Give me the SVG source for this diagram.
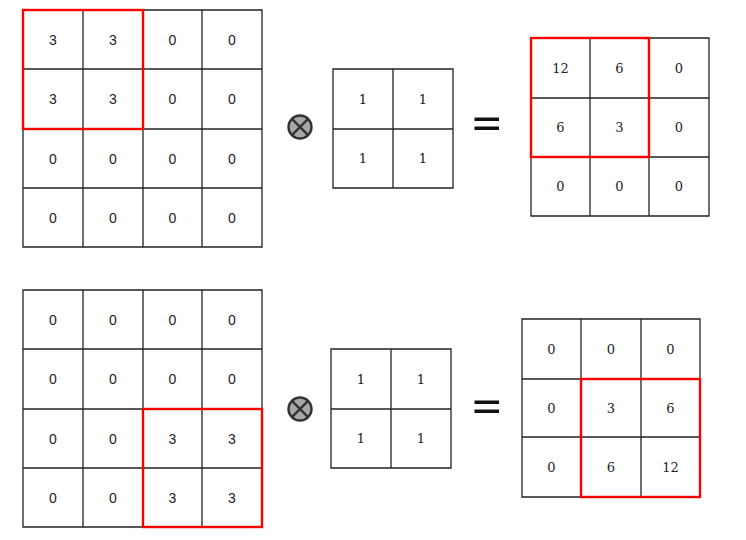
<svg xmlns="http://www.w3.org/2000/svg" width="746" height="540" viewBox="0 0 746 540">
<style>
.g{fill:none;stroke:#222;stroke-width:1.3}
.r{fill:none;stroke:#f00;stroke-width:2.4}
.s{font-family:"Liberation Sans",Arial,sans-serif;font-size:14px;fill:#222;text-anchor:middle;dominant-baseline:central}
.f{font-family:"DejaVu Serif","Liberation Serif",serif;font-size:13px;fill:#222;text-anchor:middle;dominant-baseline:central}
.ot{fill:#a8a8a8;stroke:#333;stroke-width:2.4}
.ox{stroke:#333;stroke-width:2.4}
.eq{fill:#111}
</style>
<rect width="746" height="540" fill="#fff"/>
<g id="input1">
<path class="g" d="M23 10H262V247H23Z M83 10V247 M143 10V247 M202 10V247 M23 69H262 M23 129H262 M23 188H262"/>
<g class="s">
<text x="53" y="40">3</text><text x="113" y="40">3</text><text x="172.5" y="40">0</text><text x="232" y="40">0</text>
<text x="53" y="99">3</text><text x="113" y="99">3</text><text x="172.5" y="99">0</text><text x="232" y="99">0</text>
<text x="53" y="158.5">0</text><text x="113" y="158.5">0</text><text x="172.5" y="158.5">0</text><text x="232" y="158.5">0</text>
<text x="53" y="217.5">0</text><text x="113" y="217.5">0</text><text x="172.5" y="217.5">0</text><text x="232" y="217.5">0</text>
</g>
<rect class="r" x="23" y="10" width="120" height="119"/>
</g>
<g id="op1">
<circle class="ot" cx="300" cy="127" r="11.5"/>
<path class="ox" d="M291.9 118.9L308.1 135.1M308.1 118.9L291.9 135.1"/>
</g>
<g id="kernel1">
<path class="g" d="M333 69H453V188H333Z M393 69V188 M333 129H453"/>
<g class="f">
<text x="363" y="99">1</text><text x="423" y="99">1</text>
<text x="363" y="158.5">1</text><text x="423" y="158.5">1</text>
</g>
</g>
<g id="eq1">
<rect class="eq" x="474.5" y="117.5" width="24.5" height="3.5"/>
<rect class="eq" x="474.5" y="126.5" width="24.5" height="3.5"/>
</g>
<g id="output1">
<path class="g" d="M531 38H709V216H531Z M590 38V216 M649 38V216 M531 98H709 M531 157H709"/>
<g class="f">
<text x="560.5" y="68">12</text><text x="619.5" y="68">6</text><text x="679" y="68">0</text>
<text x="560.5" y="127.5">6</text><text x="619.5" y="127.5">3</text><text x="679" y="127.5">0</text>
<text x="560.5" y="186.5">0</text><text x="619.5" y="186.5">0</text><text x="679" y="186.5">0</text>
</g>
<rect class="r" x="531" y="38" width="118" height="119"/>
</g>
<g id="input2">
<path class="g" d="M23 290H262V527H23Z M83 290V527 M143 290V527 M202 290V527 M23 349H262 M23 409H262 M23 468H262"/>
<g class="s">
<text x="53" y="320">0</text><text x="113" y="320">0</text><text x="172.5" y="320">0</text><text x="232" y="320">0</text>
<text x="53" y="379">0</text><text x="113" y="379">0</text><text x="172.5" y="379">0</text><text x="232" y="379">0</text>
<text x="53" y="438.5">0</text><text x="113" y="438.5">0</text><text x="172.5" y="438.5">3</text><text x="232" y="438.5">3</text>
<text x="53" y="497.5">0</text><text x="113" y="497.5">0</text><text x="172.5" y="497.5">3</text><text x="232" y="497.5">3</text>
</g>
<rect class="r" x="143" y="409" width="119" height="118"/>
</g>
<g id="op2">
<circle class="ot" cx="300" cy="409" r="11.5"/>
<path class="ox" d="M291.9 400.9L308.1 417.1M308.1 400.9L291.9 417.1"/>
</g>
<g id="kernel2">
<path class="g" d="M331 349H451V468H331Z M391 349V468 M331 409H451"/>
<g class="f">
<text x="361" y="379">1</text><text x="421" y="379">1</text>
<text x="361" y="438.5">1</text><text x="421" y="438.5">1</text>
</g>
</g>
<g id="eq2">
<rect class="eq" x="474.5" y="400.5" width="24.5" height="3.5"/>
<rect class="eq" x="474.5" y="409.5" width="24.5" height="3.5"/>
</g>
<g id="output2">
<path class="g" d="M522 319H700V497H522Z M581 319V497 M641 319V497 M522 379H700 M522 437H700"/>
<g class="f">
<text x="551.5" y="349">0</text><text x="611" y="349">0</text><text x="670.5" y="349">0</text>
<text x="551.5" y="408">0</text><text x="611" y="408">3</text><text x="670.5" y="408">6</text>
<text x="551.5" y="467">0</text><text x="611" y="467">6</text><text x="670.5" y="467">12</text>
</g>
<rect class="r" x="581" y="379" width="119" height="118"/>
</g>
<g id="connectors"></g>
</svg>
